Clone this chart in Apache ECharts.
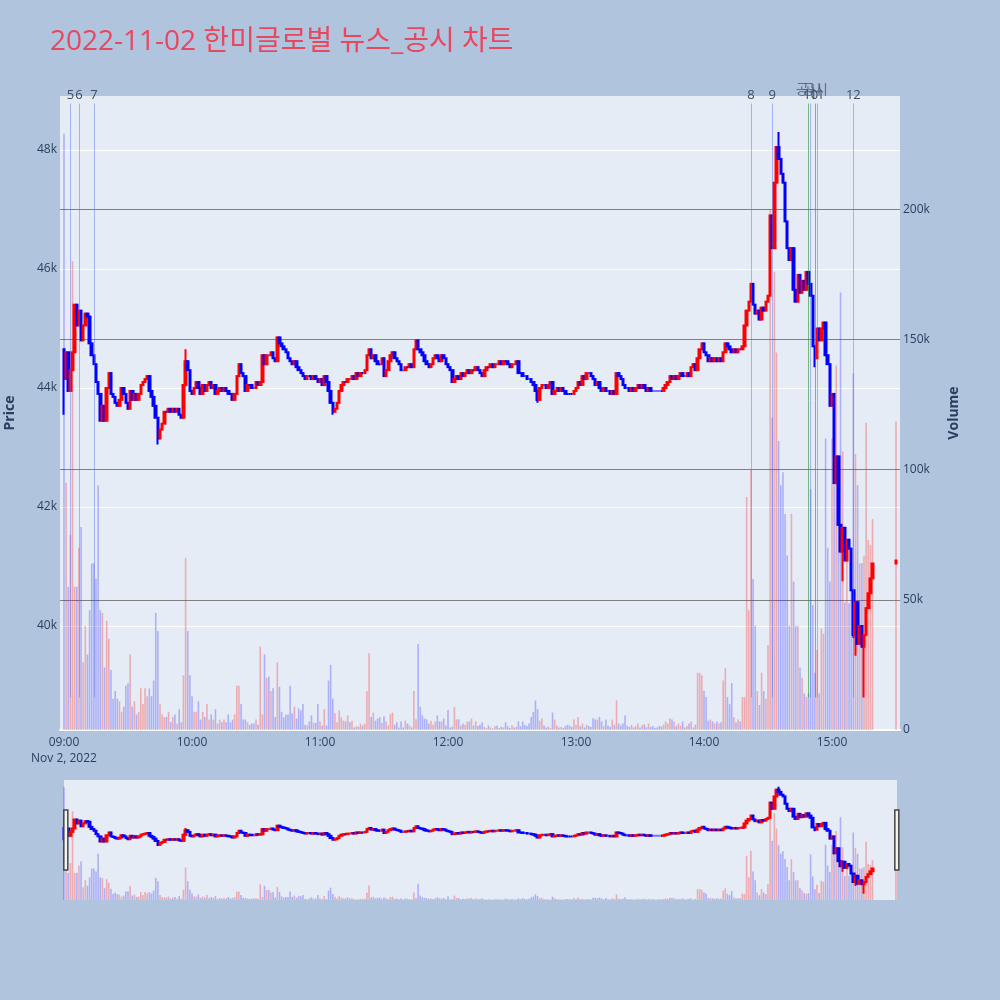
<!DOCTYPE html>
<html><head><meta charset="utf-8">
<script src="https://cdn.jsdelivr.net/npm/echarts@6/dist/echarts.min.js"></script>
<style>html,body{margin:0;padding:0;background:#b0c4de}#c{width:1000px;height:1000px}</style>
</head><body><div id="c"></div>
<script>
// ---------------- data ----------------
const titleText = '2022-11-02 한미글로벌 뉴스_공시 차트';
const sessionDay = [2022, 11, 2];
const dateLabel = 'Nov 2, 2022';
const firstOpen = 44650;
// one close per minute, 09:00 .. 15:19
const closes = [
44150,44600,43950,44300,44600,45400,45050,45300,44800,45050,
45250,45200,44750,44550,44400,44100,43900,43450,43700,43450,
44000,44250,43900,43850,43750,43700,43800,44000,43900,43750,
43650,43950,43800,43900,43800,43900,44050,44100,44150,44200,
43950,43850,43700,43500,43150,43300,43400,43600,43600,43650,
43600,43650,43600,43650,43550,43500,44050,44450,44300,43950,
43900,44000,44100,44000,43900,44050,43950,44050,44100,44000,
44050,43900,43950,44000,43950,44000,43950,43900,43900,43800,
43900,44200,44400,44250,44200,43950,44050,44050,44000,44000,
44100,44050,44100,44550,44400,44550,44550,44600,44500,44450,
44850,44750,44700,44650,44600,44500,44450,44400,44450,44350,
44300,44250,44200,44150,44200,44200,44150,44200,44150,44100,
44150,44050,44200,44100,43950,43750,43600,43650,43750,43950,
44050,44100,44100,44150,44150,44200,44150,44250,44200,44250,
44250,44300,44550,44650,44500,44550,44450,44400,44400,44500,
44200,44300,44450,44550,44600,44500,44450,44400,44300,44300,
44350,44350,44400,44350,44650,44800,44650,44600,44550,44450,
44400,44350,44400,44500,44550,44500,44450,44550,44500,44400,
44350,44300,44100,44150,44200,44150,44250,44200,44250,44300,
44250,44300,44300,44350,44300,44250,44200,44300,44350,44350,
44400,44350,44400,44400,44450,44400,44450,44450,44400,44350,
44400,44400,44450,44250,44250,44200,44200,44150,44150,44100,
44050,43950,43800,44000,44050,44050,44000,44050,44100,43900,
43950,44000,43950,44000,43950,43900,43900,43900,43900,43950,
44000,44100,44050,44200,44150,44250,44250,44200,44150,44050,
44100,44000,43950,44000,43950,43950,43900,43950,43900,44250,
44200,44150,44050,44000,44000,43950,44000,43950,44000,44050,
44000,44050,44000,43950,44000,43950,43950,43950,43950,43950,
43950,44000,44050,44100,44200,44150,44200,44150,44200,44250,
44200,44200,44250,44200,44350,44400,44300,44500,44650,44750,
44600,44550,44450,44500,44450,44500,44450,44500,44450,44600,
44750,44700,44650,44600,44650,44600,44650,44650,44700,45050,
45300,45450,45750,45400,45250,45300,45150,45350,45300,45450,
45550,46900,46350,47450,48050,47850,47600,47450,46800,46350,
46150,46350,45650,45450,45900,45600,45800,45650,45950,45750,
45550,44700,44500,45000,44800,45000,45100,44550,44400,43700,
43900,42400,42850,41700,41250,41650,41100,41450,41300,40600,
39850,40400,39700,40000,39650,39850,40300,40550,40800,41050
];
const volumes = [
229000,95000,55000,75000,180000,55000,55000,70000,78000,26000,
40000,29000,46000,64000,64000,58000,94000,46000,45000,24000,
42000,35000,23000,12000,15000,12000,11000,7000,9000,17000,
18000,29000,9000,11000,6000,7000,16000,10000,16000,13000,
16000,13000,19000,45000,38000,10000,6000,5000,5000,7000,
3000,5000,6000,2500,8000,3000,21000,66000,38000,21000,
13000,7000,7000,11000,4000,7000,5000,10000,4000,6000,
4000,8000,2500,4000,3000,4000,3000,6000,3000,4000,
6000,17000,17000,10000,4000,4000,3000,2000,2500,2500,
4000,2000,32000,6000,29000,20000,20500,15000,16000,5000,
26000,16600,7000,4900,6000,6000,17000,6400,9000,4400,
8300,7500,10000,2000,1700,3300,5600,2800,2800,10000,
3300,1700,8000,1700,19000,25000,12000,6400,3000,7500,
4900,3600,3300,5600,3000,3600,1000,1400,1300,2500,
1700,2500,15000,29500,5000,6700,3600,4400,4900,2700,
5300,3300,1700,6100,6700,2000,3000,1000,3300,1000,
3600,2500,1700,1000,15000,4100,33000,9000,5600,4400,
4100,2500,3600,2000,3300,5600,3300,3300,4400,1700,
7700,1000,1300,8800,4100,4100,1700,2500,2000,3300,
3300,4400,1700,3300,1500,2000,3000,1200,800,1700,
1000,600,1500,1700,800,1200,1000,3000,1400,800,
1800,1000,1200,3300,1500,3300,2000,1500,2500,5000,
7000,11400,8000,3500,4500,1700,1000,1300,800,6700,
4000,1700,1000,1200,800,1500,2000,1700,1200,4000,
2000,5000,1500,2500,1000,2000,1500,1200,4500,4000,
4000,5000,3300,1500,4000,1700,1200,4000,2000,11400,
2500,1700,2500,5600,1500,1200,2000,1000,1500,2500,
1000,1800,2200,1000,2500,1200,1500,800,1000,1500,
1300,2000,3300,2500,4500,4000,3300,1500,2500,1700,
3300,1000,1500,2500,3300,1000,2000,22000,22000,21000,
15000,12700,3600,4000,3300,2500,3300,2500,3000,19000,
23700,12700,9900,18000,4900,3000,4000,3300,12700,12700,
89500,46000,100000,58000,40000,15000,9600,22000,15000,12000,
32600,200000,120000,176000,145000,111000,94000,99000,83000,67000,
40000,83000,57000,40000,40000,24000,20000,14000,12700,14000,
92600,48000,22000,30700,14000,39000,37000,112000,70000,57000,
112000,94000,140000,97000,168000,107000,49000,69000,48700,70000,
137000,106000,94000,64000,64000,67000,118000,73000,71000,81000
];
// wick extremes read where they stick out of the bodies (minute index -> price)
const wickLows = {0:43550, 44:43050, 126:43550, 222:43750, 352:44350, 365:40750, 370:39800, 371:39500, 375:38800};
const wickHighs = {57:44650, 335:48300};
// closing auction print
const auction = {time:'15:30', close:41100, volume:118500};
// news / disclosure markers
const newsLabels = ['5','6','7','8','9','10','11','12'];
const newsTimes = ['09:03','09:07','09:14','14:22','14:32','14:50','14:53','15:10'];
const disclosureLabels = ['공시','공시'];
const disclosureTimes = ['14:49','14:52'];
const markerSpan = [38800, 48780];
// axis ranges
const priceRange = [38252, 48907];
const volumeRange = [0, 243500];
const volumeTickStep = 50000;

// ---------------- build ----------------
const FONT = '"Open Sans", "Noto Sans CJK KR", sans-serif';
const UP = '#ff0000', DOWN = '#0000ff';
const UP_VOL = 'rgba(255,0,0,0.28)', DOWN_VOL = 'rgba(0,0,255,0.25)';
function hm(s){ const p = s.split(':').map(Number); return new Date(sessionDay[0], sessionDay[1]-1, sessionDay[2], p[0], p[1], p[2]||0).getTime(); }
const t0 = hm('09:00');
const MIN = 60000;

const candleData = [], volData = [];
let prev = firstOpen;
function pushBar(t, c, v, i){
  const o = prev;
  const lo = Math.min(o, c, wickLows[i] != null ? wickLows[i] : Infinity);
  const hi = Math.max(o, c, wickHighs[i] != null ? wickHighs[i] : -Infinity);
  candleData.push([t, o, c, lo, hi]);
  volData.push([t, v, c > o ? 1 : 0]);
  prev = c;
}
closes.forEach((c, i) => pushBar(t0 + i*MIN, c, volumes[i], i));
pushBar(hm(auction.time), auction.close, auction.volume, -1);

function volRender(params, api){
  const t = api.value(0), v = api.value(1), up = api.value(2);
  const p0 = api.coord([t, 0]);
  const p1 = api.coord([t, v]);
  const w = 1.6;
  return {type:'rect', shape:{x:p0[0]-w/2, y:p1[1], width:w, height:p0[1]-p1[1]},
          style:{fill: up ? UP_VOL : DOWN_VOL}};
}

const markData = [];
newsLabels.forEach((lab, i) => {
  const t = hm(newsTimes[i]);
  markData.push([{coord:[t, markerSpan[0]], name:lab,
    lineStyle:{color:'rgba(80,110,240,0.45)', width:1, type:'solid'},
    label:{show:true, position:'end', distance:2, formatter:'{b}', color:'#3d4b63', fontSize:13, fontFamily:FONT}},
    {coord:[t, markerSpan[1]]}]);
});
disclosureLabels.forEach((lab, i) => {
  const t = hm(disclosureTimes[i]);
  markData.push([{coord:[t, markerSpan[0]], name:lab,
    lineStyle:{color:'rgba(40,150,40,0.6)', width:1, type:'solid'},
    label:{show:true, position:'end', distance:7, formatter:'{b}', color:'rgba(70,85,110,0.75)', fontSize:14, fontFamily:FONT}},
    {coord:[t, markerSpan[1]]}]);
});

const candleStyle = {color:UP, color0:DOWN, borderColor:UP, borderColor0:DOWN, borderColorDoji:DOWN, borderWidth:2};
const labelColor = '#2a3f5f';

const option = {
  animation:false,
  backgroundColor:'#b0c4de',
  textStyle:{fontFamily:FONT},
  title:{text:titleText, left:45, top:23, textStyle:{color:'#e8475e', fontSize:28, fontWeight:'normal', fontFamily:FONT}},
  grid:[
    {left:60, right:100, top:96, height:634, show:true, backgroundColor:'#e5ecf6', borderWidth:0, outerBoundsMode:'none', containLabel:false},
    {left:64, right:103, top:780, height:120, show:true, backgroundColor:'#e5ecf6', borderWidth:0, outerBoundsMode:'none', containLabel:false}
  ],
  xAxis:[
    {type:'time', gridIndex:0, min:t0 - 1.875*MIN, max:t0 + 391.875*MIN,
     minInterval:3600000, maxInterval:3600000,
     axisLine:{show:true, onZero:false, lineStyle:{color:'#ffffff', width:2}},
     axisTick:{show:false}, splitLine:{show:false},
     axisLabel:{color:labelColor, fontSize:12, margin:5, lineHeight:16, fontFamily:FONT, hideOverlap:false,
       formatter:function(v){
         const d = new Date(v);
         if (d.getMinutes() !== 0 || d.getSeconds() !== 0) return '';
         const s = String(d.getHours()).padStart(2,'0') + ':00';
         return d.getHours() === 9 ? s + '\n' + dateLabel : s;
       }}},
    {type:'time', gridIndex:1, min:t0, max:t0 + 390.5*MIN, show:false}
  ],
  yAxis:[
    {type:'value', gridIndex:0, position:'left', min:priceRange[0], max:priceRange[1], splitNumber:5,
     axisLine:{show:false}, axisTick:{show:false},
     axisLabel:{color:labelColor, fontSize:12, margin:3, fontFamily:FONT, showMinLabel:false, showMaxLabel:false,
       formatter:function(v){ return (v/1000) + 'k'; }},
     splitLine:{show:true, showMinLine:false, showMaxLine:false, lineStyle:{color:'#ffffff', width:1}},
     name:'Price', nameLocation:'middle', nameRotate:90, nameGap:43,
     nameTextStyle:{color:labelColor, fontSize:14, fontWeight:'bold', fontFamily:FONT}},
    {type:'value', gridIndex:0, position:'right', min:volumeRange[0], max:volumeRange[1], interval:volumeTickStep,
     axisLine:{show:false}, axisTick:{show:false},
     axisLabel:{color:labelColor, fontSize:12, margin:3, fontFamily:FONT, showMaxLabel:false,
       formatter:function(v){ return v === 0 ? '0' : (v/1000) + 'k'; }},
     splitLine:{show:true, showMinLine:false, showMaxLine:false, lineStyle:{color:'rgba(110,110,110,0.85)', width:1.2}},
     name:'Volume', nameLocation:'middle', nameRotate:90, nameGap:47,
     nameTextStyle:{color:labelColor, fontSize:14, fontWeight:'bold', fontFamily:FONT}},
    {type:'value', gridIndex:1, min:priceRange[0], max:priceRange[1], show:false, splitLine:{show:false}},
    {type:'value', gridIndex:1, min:volumeRange[0], max:volumeRange[1], show:false, splitLine:{show:false}}
  ],
  dataZoom:[{
    type:'slider', xAxisIndex:1, filterMode:'none', start:0, end:100,
    left:64, right:103, top:780, height:120,
    backgroundColor:'rgba(0,0,0,0)', borderColor:'rgba(0,0,0,0)', fillerColor:'rgba(0,0,0,0)',
    showDataShadow:false, showDetail:false, brushSelect:false, moveHandleSize:0,
    handleIcon:'path://M0,0H4V60H0Z', handleSize:'50%',
    handleStyle:{color:'#f4f4f4', borderColor:'#444444', borderWidth:1.5},
    dataBackground:{lineStyle:{opacity:0}, areaStyle:{opacity:0}},
    selectedDataBackground:{lineStyle:{opacity:0}, areaStyle:{opacity:0}}
  }],
  series:[
    {type:'custom', name:'vol', xAxisIndex:0, yAxisIndex:1, data:volData, renderItem:volRender,
     encode:{x:0, y:1}, z:1, silent:true},
    {type:'candlestick', name:'price', xAxisIndex:0, yAxisIndex:0, data:candleData, barWidth:2, z:3, silent:true,
     itemStyle:candleStyle,
     markLine:{silent:true, symbol:['none','none'], animation:false, emphasis:{disabled:true}, data:markData}},
    {type:'custom', name:'vol-mini', xAxisIndex:1, yAxisIndex:3, data:volData, renderItem:volRender,
     encode:{x:0, y:1}, z:1, silent:true},
    {type:'candlestick', name:'price-mini', xAxisIndex:1, yAxisIndex:2, data:candleData, barWidth:2, z:3, silent:true,
     itemStyle:candleStyle}
  ]
};
const chart = echarts.init(document.getElementById('c'), null, {renderer:'canvas'});
chart.setOption(option);
</script>
</body></html>
